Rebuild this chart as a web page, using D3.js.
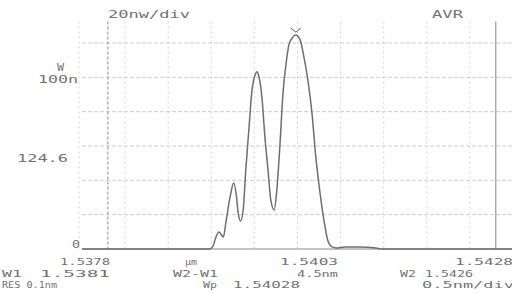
<!DOCTYPE html>
<html>
<head>
<meta charset="utf-8">
<script src="https://cdn.jsdelivr.net/npm/d3@7"></script>
<style>
  body { margin: 0; background: #fff; }
  text { font-family: "DejaVu Sans Mono", monospace; font-size: 11px; fill: #727272; }
  text.foot { font-size: 9.5px; }
  .grid { stroke: #cdcdcd; stroke-width: 1; stroke-dasharray: 4 2; }
  .vgrid { stroke: #d4d4d4; stroke-width: 1; stroke-dasharray: 2 3; }
  .marker1 { stroke: #8a8a8a; stroke-width: 1; stroke-dasharray: 3 2; }
  .marker2 { stroke: #9a9a9a; stroke-width: 1.2; }
  .trace { fill: none; stroke: #6e6e6e; stroke-width: 1.5; stroke-linejoin: round; }
</style>
</head>
<body>
<svg id="svg"></svg>
<script>

// SPECTRUM DATA (wavelength nm, power nW)

var wavelength = [1537.80, 1539.28, 1539.32, 1539.35, 1539.39, 1539.41, 1539.44, 1539.47,
  1539.52, 1539.56, 1539.59, 1539.61, 1539.64, 1539.67, 1539.70, 1539.74, 1539.77,
  1539.81, 1539.83, 1539.85, 1539.89, 1539.92, 1539.96, 1539.99, 1540.03, 1540.06,
  1540.10, 1540.13, 1540.17, 1540.20, 1540.24, 1540.28, 1540.33, 1540.37, 1540.42,
  1540.47, 1540.51, 1540.56, 1540.61, 1540.65, 1540.70, 1540.75, 1540.85, 1541.02,
  1541.21, 1541.28, 1542.80];

var power = [0, 0, 1.7, 6.4, 9.9, 8.7, 7.0, 15.7,
  30.9, 38.5, 31.5, 21.6, 16.3, 22.7, 46.1, 72.3, 91.5,
  101.5, 103.2, 100.9, 86.9, 66.5, 44.9, 28.6, 22.7, 34.4,
  63.6, 89.8, 109.0, 118.9, 123.0, 124.6, 121.8, 113.1, 98.5,
  78.1, 54.8, 33.2, 15.7, 5.2, 1.2, 0.6, 1.2, 1.2,
  0.6, 0, 0];

var xGrid = [1538.3, 1538.8, 1539.3, 1539.8, 1540.3, 1540.8, 1541.3, 1541.8, 1542.3];
var yGrid = [0, 20, 40, 60, 80, 100, 120];
var markers = [1538.1, 1542.6];
var peak = [1540.28, 124.6];

// header and side texts [text, x, y, length]
var labels = [
  ["20nw/div", 108, 18, 82], ["AVR", 432, 18, 31],
  ["W", 57, 71, 7], ["100n", 38, 83, 40], ["124.6", 17, 162, 51], ["0", 72, 248, 8]
];

// footer texts [text, x, y, length]
var footer = [
  ["1.5378", 60, 265, 50], ["\u03bcm", 185, 265, 12], ["1.5403", 280, 265, 58], ["1.5428", 455, 265, 58],
  ["W1", 2, 276.5, 20], ["1.5381", 40, 276.5, 70], ["W2-W1", 173, 276.5, 45], ["4.5nm", 297, 276.5, 41],
  ["W2", 400, 276.5, 16], ["1.5426", 425, 276.5, 48],
  ["RES  0.1nm", 2, 288, 55], ["Wp", 203, 288, 14], ["1.54028", 233, 288, 67], ["0.5nm/div", 422, 288, 92]
];

svg = d3.select("#svg")
          .attr("width", "512")
          .attr("height", "293");

var x = d3.scaleLinear().domain([1537.8, 1542.8]).range([82, 513]);
var y = d3.scaleLinear().domain([0, 120]).range([249, 43]);

// grid
svg.selectAll(".vgrid").data(xGrid).enter()
    .append("line").attr("class", "vgrid")
      .attr("x1", d => x(d)).attr("x2", d => x(d))
      .attr("y1", y(132.5)).attr("y2", y(0));

svg.selectAll(".grid").data(yGrid.slice(1)).enter()
    .append("line").attr("class", "grid")
      .attr("x1", x(1537.8)).attr("x2", 512)
      .attr("y1", d => y(d)).attr("y2", d => y(d));

// left edge with small ticks
svg.append("line").attr("class", "vgrid")
    .attr("x1", x(1537.8) - 3).attr("x2", x(1537.8) - 3)
    .attr("y1", y(132.5)).attr("y2", y(0));

// markers W1 / W2
svg.append("line").attr("class", "marker1")
    .attr("x1", x(markers[0])).attr("x2", x(markers[0]))
    .attr("y1", y(132.5)).attr("y2", y(0));
svg.append("line").attr("class", "marker2")
    .attr("x1", x(markers[1])).attr("x2", x(markers[1]))
    .attr("y1", y(132.5)).attr("y2", y(0));

// baseline
svg.append("line")
    .attr("x1", x(1537.8)).attr("x2", 512)
    .attr("y1", y(0)).attr("y2", y(0))
    .attr("stroke", "#8a8a8a").attr("stroke-width", 1.2);

// spectrum trace
var pts = wavelength.map((w, i) => [w, power[i]]);
svg.append("path").attr("class", "trace")
    .attr("d", d3.line().curve(d3.curveMonotoneX).x(d => x(d[0])).y(d => y(d[1]))(pts));

// peak marker
var px = x(peak[0]), py = y(peak[1]) - 5;
svg.append("path")
    .attr("d", "M" + (px - 5) + " " + (py - 2) + " L" + px + " " + (py + 2) + " L" + (px + 5) + " " + (py - 2))
    .attr("fill", "none").attr("stroke", "#7a7a7a").attr("stroke-width", 1.2);

// texts
function addText(rows, cls){
  svg.selectAll("." + cls).data(rows).enter()
    .append("text").attr("class", cls)
      .attr("x", d => d[1]).attr("y", d => d[2])
      .attr("textLength", d => d[3])
      .attr("lengthAdjust", "spacingAndGlyphs")
      .text(d => d[0]);
}
addText(labels, "lbl");
addText(footer, "foot");

</script>
</body>
</html>
